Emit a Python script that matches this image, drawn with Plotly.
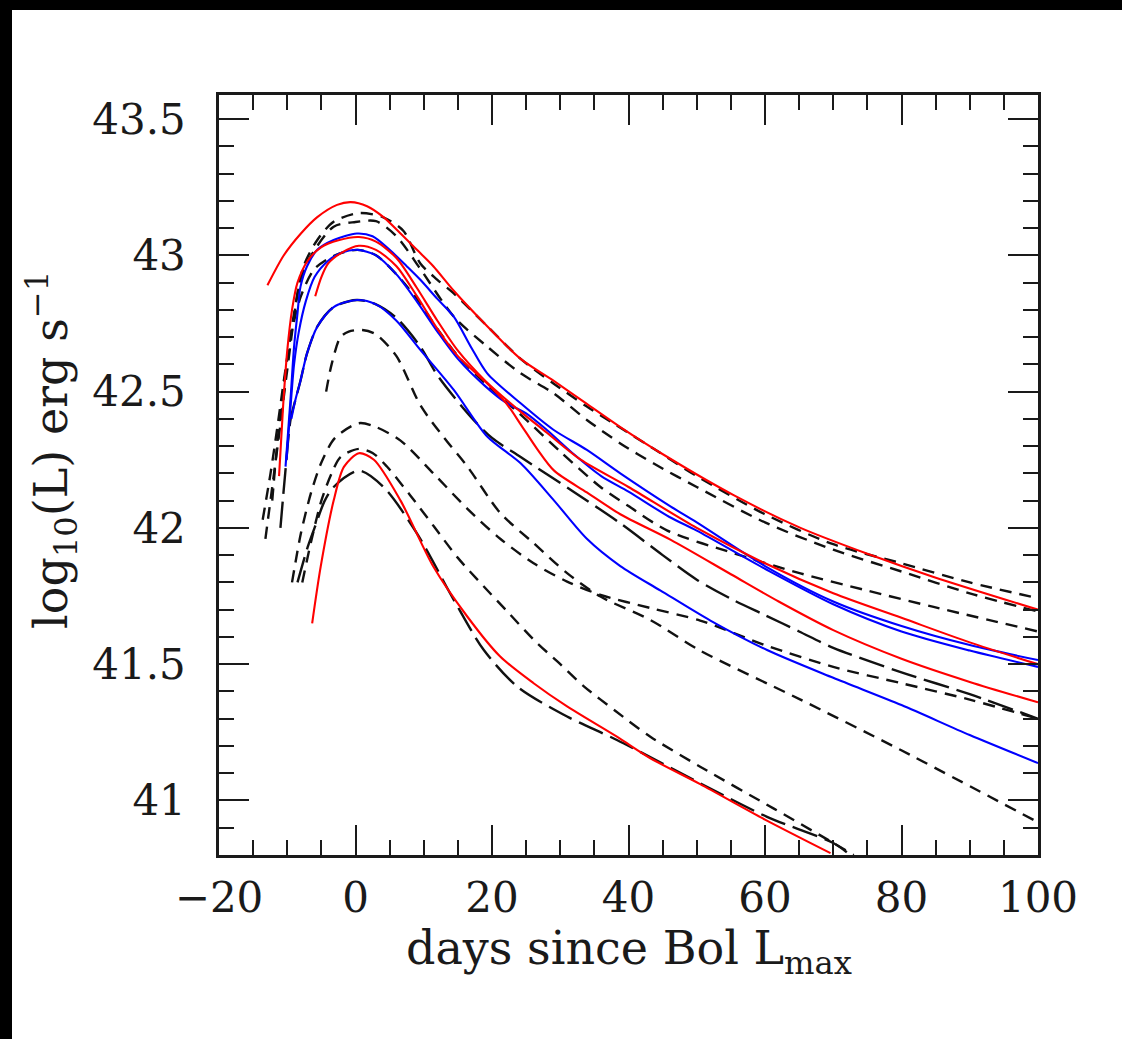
import plotly.graph_objects as go

# ---------------- data ----------------
# red solid curves
R1_x = [-12.9, -10.5, -8, -5.6, -2.7, -0.7, 1.7, 4.1, 6.6, 9, 11.4, 14.4, 19.3, 24.2, 29, 33.9, 38.8, 45.7, 55.4, 65.2, 75, 84.7, 100]
R1_y = [42.89, 43.0, 43.08, 43.14, 43.185, 43.195, 43.18, 43.14, 43.08, 43.02, 42.96, 42.87, 42.74, 42.62, 42.54, 42.455, 42.37, 42.26, 42.12, 42.0, 41.905, 41.82, 41.70]

R2_x = [-5.9, -5, -4, -2, 0.5, 3, 6, 9, 12, 15, 19.3, 22, 24.2, 26.6, 29.1, 33.9, 38.8, 46.2, 55, 62, 70, 80, 90, 100]
R2_y = [42.85, 42.92, 42.97, 43.01, 43.035, 43.02, 42.96, 42.85, 42.73, 42.63, 42.53, 42.46, 42.38, 42.29, 42.21, 42.13, 42.05, 41.956, 41.83, 41.73, 41.625, 41.52, 41.435, 41.36]

R3_x = [-11.2, -10.6, -10, -9.3, -8.5, -7, -5, -2.5, 0.5, 3, 6, 9, 12, 15, 19, 24, 28, 33, 40, 50, 60, 70, 80, 90, 100]
R3_y = [42.19, 42.45, 42.65, 42.8, 42.9, 42.98, 43.03, 43.055, 43.067, 43.05, 42.99, 42.88, 42.76, 42.65, 42.54, 42.43, 42.35, 42.25, 42.15, 42.0, 41.87, 41.76, 41.67, 41.58, 41.50]

R4_x = [-6.35, -5.1, -3.2, -1.7, 0.5, 2.7, 6.6, 11.4, 16.4, 21.2, 26.1, 31, 38.3, 43.2, 50.5, 60, 69.6]
R4_y = [41.65, 41.858, 42.10, 42.224, 42.274, 42.25, 42.10, 41.858, 41.674, 41.528, 41.43, 41.345, 41.234, 41.155, 41.06, 40.93, 40.807]

# blue solid curves
B1_x = [-10.25, -9.5, -9, -8.5, -8.06, -7.1, -5.6, -3.2, 0.2, 2.5, 5, 7.5, 9.5, 12, 14.4, 17, 19.3, 24.2, 29, 33.9, 38.8, 46.2, 50, 60, 70, 80, 90, 100]
B1_y = [42.225, 42.48, 42.665, 42.787, 42.885, 42.96, 43.02, 43.056, 43.08, 43.07, 43.02, 42.96, 42.91, 42.84, 42.775, 42.66, 42.567, 42.457, 42.36, 42.286, 42.2, 42.078, 42.02, 41.86, 41.73, 41.64, 41.57, 41.515]

B2_x = [-9.4, -8.8, -8.06, -7.1, -5.6, -3.2, 0.2, 3, 6, 9.5, 14.4, 19.3, 24.2, 29.1, 33.9, 38.8, 44.7, 52, 60.3, 70, 80, 90, 100]
B2_y = [42.40, 42.47, 42.54, 42.64, 42.738, 42.81, 42.836, 42.82, 42.76, 42.653, 42.506, 42.335, 42.237, 42.10, 41.96, 41.86, 41.77, 41.66, 41.552, 41.45, 41.35, 41.24, 41.137]

B3_x = [-10.1, -9.5, -9, -8.3, -7.3, -6, -4, -2, 0.3, 3, 6, 9, 12, 15, 19, 22, 25, 28, 32, 36, 40, 46, 50, 60, 70, 80, 90, 100]
B3_y = [42.25, 42.45, 42.6, 42.72, 42.83, 42.92, 42.98, 43.01, 43.02, 43.0, 42.93, 42.83, 42.72, 42.62, 42.52, 42.46, 42.42, 42.36, 42.27, 42.19, 42.133, 42.04, 41.99, 41.85, 41.72, 41.62, 41.55, 41.49]

# black short-dashed curves
D1_x = [-13.6, -12.45, -11.5, -10.5, -9, -7.6, -5.6, -3.2, 0.5, 4, 7, 9.5, 12, 14.4, 19.3, 24.2, 29, 33.9, 38, 43.7, 50, 60, 70, 80, 90, 100]
D1_y = [42.03, 42.2, 42.36, 42.54, 42.787, 42.96, 43.056, 43.123, 43.155, 43.14, 43.09, 42.97, 42.91, 42.86, 42.74, 42.62, 42.53, 42.445, 42.38, 42.29, 42.19, 42.05, 41.94, 41.87, 41.80, 41.742]

D2_x = [-13.2, -12.2, -11, -10, -8.06, -6.6, -3.2, 0, 3, 6, 9.5, 14.4, 19.3, 24.2, 29, 33.9, 38.8, 43.7, 50, 60, 70, 80, 90, 100]
D2_y = [41.96, 42.15, 42.38, 42.58, 42.91, 42.995, 43.105, 43.122, 43.125, 43.07, 42.95, 42.775, 42.665, 42.567, 42.494, 42.396, 42.31, 42.236, 42.15, 42.02, 41.92, 41.84, 41.76, 41.693]

D3_x = [-12.2, -11.5, -10.5, -9.5, -8, -6, -3, 0.3, 3, 6, 9, 12, 15, 19, 24, 30, 35.9, 40, 45.7, 55.4, 65.2, 75, 84.7, 100]
D3_y = [42.1, 42.3, 42.52, 42.7, 42.85, 42.95, 43.0, 43.02, 43.0, 42.93, 42.84, 42.73, 42.63, 42.53, 42.42, 42.28, 42.15, 42.08, 41.99, 41.907, 41.833, 41.77, 41.71, 41.62]

D4_x = [-4.3, -3.5, -2.2, -1, 1, 3, 6, 9.5, 13, 16.4, 21.2, 26.1, 31, 35.9, 43.2, 50.5, 65.2, 79.9, 100]
D4_y = [42.5, 42.6, 42.70, 42.72, 42.726, 42.71, 42.63, 42.45, 42.33, 42.225, 42.055, 41.944, 41.834, 41.748, 41.662, 41.55, 41.37, 41.185, 40.92]

D5_x = [-9.3, -8, -6.5, -5, -3, 0.5, 3, 6.6, 11.4, 16.4, 21.2, 26.1, 31, 35.9, 43.2, 50.5, 60, 70, 80, 90, 100]
D5_y = [41.80, 41.98, 42.13, 42.24, 42.33, 42.384, 42.37, 42.32, 42.20, 42.07, 41.96, 41.87, 41.803, 41.754, 41.706, 41.66, 41.57, 41.49, 41.43, 41.37, 41.30]

D6_x = [-7.8, -6.5, -5, -3.5, -2.2, 0.5, 2.5, 4.6, 8, 11.5, 15, 18.8, 22, 26.1, 30, 33.5, 38, 43.2, 50.5, 61.3, 70.1, 73]
D6_y = [41.80, 41.95, 42.10, 42.20, 42.26, 42.29, 42.275, 42.225, 42.12, 42.005, 41.89, 41.785, 41.70, 41.59, 41.50, 41.418, 41.33, 41.234, 41.124, 40.97, 40.843, 40.80]

# black long-dashed curves
L1_x = [-11, -10.3, -9.5, -8.8, -8.06, -7.1, -5.6, -3.2, 0.2, 3, 6, 9.5, 12, 16.8, 20, 24.2, 31.5, 38.8, 45, 50, 55, 60, 65, 70, 80, 90, 100]
L1_y = [42.0, 42.2, 42.4, 42.47, 42.54, 42.64, 42.738, 42.81, 42.836, 42.82, 42.77, 42.665, 42.56, 42.41, 42.33, 42.26, 42.14, 42.017, 41.90, 41.81, 41.74, 41.68, 41.62, 41.56, 41.47, 41.39, 41.30]

L3_x = [-8.5, -7, -6, -4.5, -3.2, 0.5, 4.1, 9, 14.4, 18.8, 23.7, 31, 38.3, 50.5, 60.3, 70, 72]
L3_y = [41.80, 41.93, 42.0, 42.1, 42.15, 42.21, 42.15, 41.98, 41.736, 41.552, 41.418, 41.308, 41.222, 41.063, 40.94, 40.844, 40.81]

# axis ticks
x_ticks = [-20, 0, 20, 40, 60, 80, 100]
x_ticktext = ["\u221220", "0", "20", "40", "60", "80", "100"]
y_ticks = [41, 41.5, 42, 42.5, 43, 43.5]
y_ticktext = ["41", "41.5", "42", "42.5", "43", "43.5"]

x_title = "days since Bol L<sub>max</sub>"
y_title = "log<sub>10</sub>(L) erg s<sup>\u22121</sup>"

# ---------------- figure ----------------
W, H = 1122, 1039
L_M, R_M, T_M, B_M = 219, 84, 95, 184
plot_w = W - L_M - R_M
plot_h = H - T_M - B_M

def px_x(p):
    return (p - L_M) / plot_w

def px_y(p):
    return (H - B_M - p) / plot_h

fig = go.Figure()

short_dash = "12px,8px"
long_dash = "26px,8px"

for xs, ys in [(D1_x, D1_y), (D2_x, D2_y), (D3_x, D3_y), (D4_x, D4_y), (D5_x, D5_y), (D6_x, D6_y)]:
    fig.add_trace(go.Scatter(x=xs, y=ys, mode="lines",
                             line=dict(color="#111111", width=2.4, dash=short_dash, shape="spline", smoothing=0.8),
                             showlegend=False, hoverinfo="skip"))
for xs, ys in [(L1_x, L1_y), (L3_x, L3_y)]:
    fig.add_trace(go.Scatter(x=xs, y=ys, mode="lines",
                             line=dict(color="#111111", width=2.4, dash=long_dash, shape="spline", smoothing=0.8),
                             showlegend=False, hoverinfo="skip"))
for xs, ys in [(B1_x, B1_y), (B2_x, B2_y), (B3_x, B3_y)]:
    fig.add_trace(go.Scatter(x=xs, y=ys, mode="lines",
                             line=dict(color="#0000ff", width=2.1, shape="spline", smoothing=0.8),
                             showlegend=False, hoverinfo="skip"))
for xs, ys in [(R1_x, R1_y), (R2_x, R2_y), (R3_x, R3_y), (R4_x, R4_y)]:
    fig.add_trace(go.Scatter(x=xs, y=ys, mode="lines",
                             line=dict(color="#ff0000", width=2.1, shape="spline", smoothing=0.8),
                             showlegend=False, hoverinfo="skip"))

axis_color = "#1a1a1a"
tick_font = dict(family="DejaVu Serif", size=42, color="#1a1a1a")

fig.update_xaxes(range=[-20, 100], tickvals=x_ticks, ticktext=x_ticktext,
                 ticks="inside", ticklen=30, tickwidth=2, tickcolor=axis_color,
                 minor=dict(dtick=5, tick0=0, ticks="inside", ticklen=15, tickwidth=2, tickcolor=axis_color),
                 showline=True, linewidth=2.5, linecolor=axis_color, mirror="allticks",
                 showgrid=False, zeroline=False, tickfont=tick_font, ticklabelstandoff=4)
fig.update_yaxes(range=[40.8, 43.588], tickvals=y_ticks, ticktext=y_ticktext,
                 ticks="inside", ticklen=30, tickwidth=2, tickcolor=axis_color,
                 minor=dict(dtick=0.1, tick0=41, ticks="inside", ticklen=15, tickwidth=2, tickcolor=axis_color),
                 showline=True, linewidth=2.5, linecolor=axis_color, mirror="allticks",
                 showgrid=False, zeroline=False, tickfont=tick_font, ticklabelstandoff=22)

title_font = dict(family="DejaVu Serif", size=46, color="#1a1a1a")
fig.add_annotation(text=x_title, xref="paper", yref="paper", x=0.5, y=px_y(952),
                   xanchor="center", yanchor="middle", showarrow=False, font=title_font)
fig.add_annotation(text=y_title, xref="paper", yref="paper", x=px_x(52), y=px_y(450),
                   xanchor="center", yanchor="middle", showarrow=False, textangle=-90, font=title_font)

# black frame strips at the top and left edges of the image
fig.add_shape(type="rect", xref="paper", yref="paper",
              x0=px_x(0), x1=px_x(12), y0=px_y(H), y1=px_y(0),
              fillcolor="black", line=dict(width=0), layer="above")
fig.add_shape(type="rect", xref="paper", yref="paper",
              x0=px_x(0), x1=px_x(W), y0=px_y(10), y1=px_y(0),
              fillcolor="black", line=dict(width=0), layer="above")
# keep the right edge of the image white below the top strip
fig.add_shape(type="rect", xref="paper", yref="paper",
              x0=px_x(1100), x1=px_x(W), y0=px_y(H), y1=px_y(10),
              fillcolor="white", line=dict(width=0), layer="above")

fig.update_layout(width=W, height=H, margin=dict(l=L_M, r=R_M, t=T_M, b=B_M),
                  paper_bgcolor="white", plot_bgcolor="white", showlegend=False)

fig.write_html("out.html",
               post_script="document.documentElement.style.overflow='hidden';"
                           "document.body.style.overflow='hidden';document.body.style.margin='0';")
